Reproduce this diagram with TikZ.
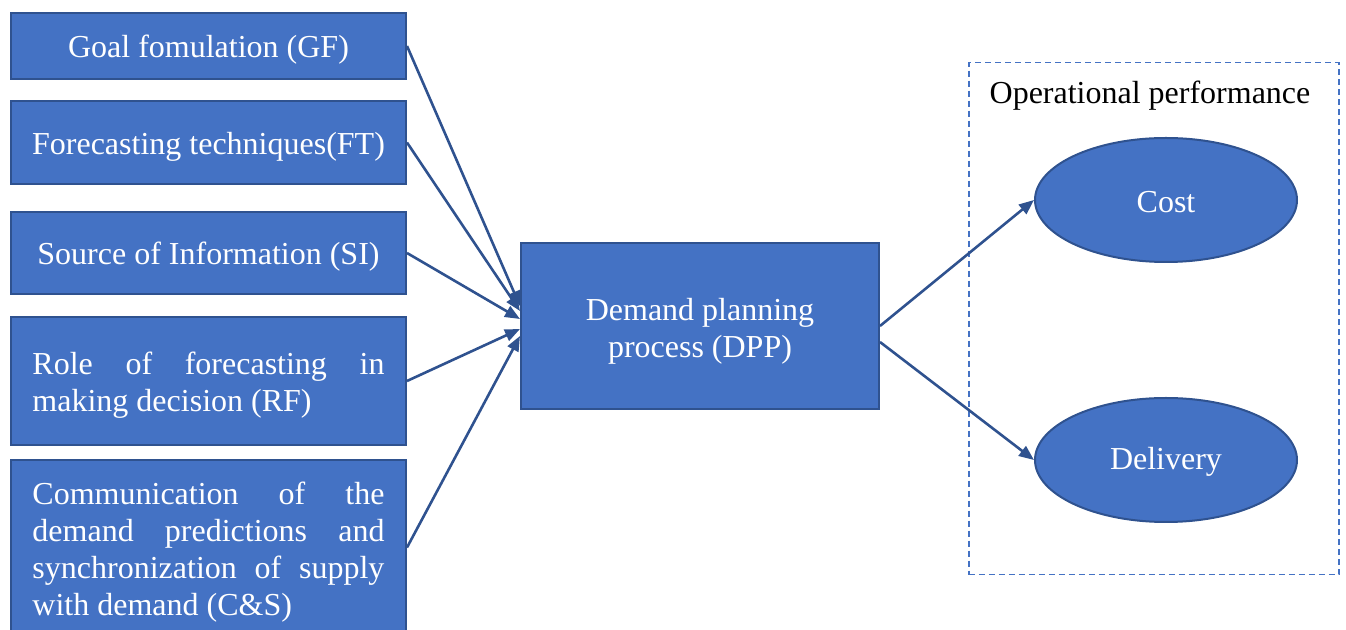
\documentclass[tikz,border=0pt]{standalone}
\usepackage{fontspec}
\setmainfont{Liberation Serif}
\usetikzlibrary{arrows.meta,shapes.geometric}
\definecolor{B4}{RGB}{68,114,196}
\definecolor{D4}{RGB}{47,82,143}
\newcommand{\lift}[1]{\rule{0pt}{#1}}

\begin{document}
\begin{tikzpicture}[x=0.5pt,y=-0.5pt,
    box/.style={draw=D4, line width=1pt, fill=B4, text=white, anchor=north west,
      minimum width=197.5pt, inner sep=0pt, align=center,
      font=\fontsize{16}{18.5}\selectfont},
    oval/.style={ellipse, draw=D4, line width=1pt, fill=B4, text=white,
      minimum width=131pt, minimum height=62pt, font=\fontsize{16}{18.5}\selectfont},
    link/.style={draw=D4, line width=1.3pt, -{Triangle[length=7.5pt,width=6pt]}}]
      \useasboundingbox (0,0) rectangle (1346,630);
      \node[box, minimum height=33pt] (gf) at (10,12) {\lift{15pt}Goal fomulation (GF)};
      \node[box, minimum height=41.5pt] (ft) at (10,100) {\lift{15pt}Forecasting techniques(FT)};
      \node[box, minimum height=41pt] (si) at (10,211) {\lift{15pt}Source of Information (SI)};
      \node[box, minimum height=64pt] (rf) at (10,316)
        {\lift{15pt}\makebox[176pt][s]{Role of forecasting in}\\\makebox[176pt][l]{making decision (RF)}};
      \node[box, minimum height=87.5pt] (cs) at (10,459)
        {\lift{16pt}\makebox[176pt][s]{Communication of the}\\\makebox[176pt][s]{demand predictions and}\\
         \makebox[176pt][s]{synchronization of supply}\\\makebox[176pt][l]{with demand (C\&S)}};
      \node[box, minimum width=179pt, minimum height=83pt] (dpp) at (520,242)
        {\lift{16pt}Demand planning\\process (DPP)};
      \node[draw=B4, line width=0.75pt, dash pattern=on 3pt off 2pt, anchor=north west,
        minimum width=185pt, minimum height=256pt, inner sep=0pt] (perf) at (968,62) {};
      \node[font=\fontsize{16}{18.5}\selectfont] (perflabel) at (1150,96) {Operational performance};
      \node[oval] (cost) at (1166,200) {\lift{13pt}Cost};
      \node[oval] (delivery) at (1166,460) {\lift{13pt}Delivery};
      \draw[link] (gf.east) -- ([yshift=10pt]dpp.west);
      \draw[link] (ft.east) -- ([yshift=7.5pt]dpp.west);
      \draw[link] (si.east) -- ([yshift=3.5pt]dpp.west);
      \draw[link] (rf.east) -- ([yshift=-1.5pt]dpp.west);
      \draw[link] (cs.east) -- ([yshift=-5pt]dpp.west);
      \draw[link] (dpp.east) -- (cost.west);
      \draw[link] ([yshift=-8pt]dpp.east) -- (delivery.west);
\end{tikzpicture}
\end{document}
